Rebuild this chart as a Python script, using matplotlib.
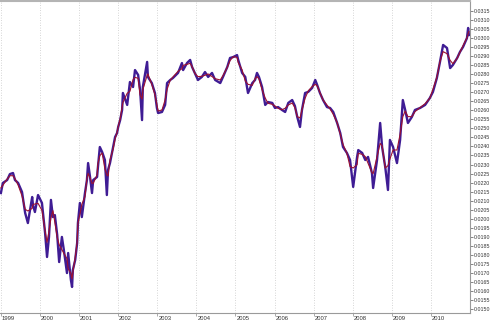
import numpy as np
import pandas as pd
import matplotlib
matplotlib.use("Agg")
import matplotlib.pyplot as plt
from matplotlib.ticker import FixedLocator, FormatStrFormatter
import matplotlib.transforms as mtransforms

# decimal years and rate values
years = [
    1999.00, 1999.05, 1999.16, 1999.23, 1999.31, 1999.36, 1999.44, 1999.54, 1999.62, 1999.69,
    1999.80, 1999.82, 1999.87, 1999.95, 2000.05, 2000.13, 2000.18, 2000.23, 2000.28, 2000.33,
    2000.38, 2000.44, 2000.49, 2000.56, 2000.61, 2000.69, 2000.72, 2000.79, 2000.82, 2000.84,
    2000.90, 2000.95, 2000.97, 2001.02, 2001.07, 2001.15, 2001.20, 2001.23, 2001.28, 2001.33,
    2001.36, 2001.46, 2001.48, 2001.53, 2001.59, 2001.66, 2001.71, 2001.74, 2001.79, 2001.87,
    2001.92, 2001.97, 2002.00, 2002.05, 2002.10, 2002.12, 2002.23, 2002.30, 2002.38, 2002.43,
    2002.51, 2002.56, 2002.61, 2002.63, 2002.74, 2002.76, 2002.86, 2002.94, 2002.99, 2003.02,
    2003.12, 2003.20, 2003.25, 2003.33, 2003.40, 2003.53, 2003.63, 2003.66, 2003.76, 2003.84,
    2003.89, 2003.96, 2004.04, 2004.14, 2004.22, 2004.30, 2004.40, 2004.48, 2004.61, 2004.68,
    2004.79, 2004.86, 2004.94, 2005.04, 2005.07, 2005.17, 2005.25, 2005.32, 2005.43, 2005.50,
    2005.55, 2005.60, 2005.68, 2005.76, 2005.83, 2005.94, 2006.01, 2006.09, 2006.19, 2006.27,
    2006.35, 2006.45, 2006.52, 2006.58, 2006.65, 2006.70, 2006.78, 2006.86, 2006.96, 2007.04,
    2007.09, 2007.16, 2007.24, 2007.34, 2007.42, 2007.50, 2007.60, 2007.68, 2007.75, 2007.85,
    2007.93, 2008.01, 2008.11, 2008.14, 2008.24, 2008.32, 2008.39, 2008.49, 2008.52, 2008.62,
    2008.70, 2008.75, 2008.83, 2008.90, 2008.95, 2009.03, 2009.13, 2009.21, 2009.28, 2009.34,
    2009.41, 2009.51, 2009.59, 2009.72, 2009.85, 2009.97, 2010.05, 2010.15, 2010.23, 2010.31,
    2010.41, 2010.49, 2010.56, 2010.67, 2010.74, 2010.82, 2010.92, 2010.95, 2010.97,
]
rate = [
    0.02142, 0.02198, 0.02214, 0.02247, 0.02253, 0.02214, 0.02198, 0.02148, 0.02032, 0.01976,
    0.02120, 0.02076, 0.02037, 0.02131, 0.02087, 0.01921, 0.01788, 0.01899, 0.02104, 0.02009,
    0.02020, 0.01910, 0.01760, 0.01899, 0.01827, 0.01699, 0.01810, 0.01661, 0.01622, 0.01716,
    0.01771, 0.01865, 0.01976, 0.02087, 0.02009, 0.02142, 0.02214, 0.02308, 0.02231, 0.02142,
    0.02214, 0.02231, 0.02281, 0.02397, 0.02369, 0.02325, 0.02131, 0.02270, 0.02308, 0.02397,
    0.02452, 0.02474, 0.02508, 0.02546, 0.02602, 0.02696, 0.02630, 0.02757, 0.02729, 0.02823,
    0.02796, 0.02713, 0.02546, 0.02729, 0.02868, 0.02785, 0.02751, 0.02696, 0.02613, 0.02585,
    0.02591, 0.02630, 0.02751, 0.02768, 0.02779, 0.02807, 0.02862, 0.02823, 0.02862, 0.02879,
    0.02840, 0.02807, 0.02768, 0.02785, 0.02812, 0.02785, 0.02807, 0.02768, 0.02751, 0.02785,
    0.02840, 0.02890, 0.02895, 0.02906, 0.02879, 0.02807, 0.02785, 0.02696, 0.02751, 0.02768,
    0.02807, 0.02785, 0.02729, 0.02630, 0.02646, 0.02641, 0.02613, 0.02618, 0.02602, 0.02591,
    0.02641, 0.02657, 0.02624, 0.02563, 0.02508, 0.02602, 0.02696, 0.02702, 0.02724, 0.02768,
    0.02740, 0.02696, 0.02657, 0.02618, 0.02613, 0.02591, 0.02530, 0.02474, 0.02397, 0.02364,
    0.02325, 0.02176, 0.02342, 0.02380, 0.02364, 0.02325, 0.02342, 0.02253, 0.02170, 0.02325,
    0.02530, 0.02397, 0.02286, 0.02159, 0.02436, 0.02397, 0.02308, 0.02436, 0.02657, 0.02602,
    0.02530, 0.02563, 0.02602, 0.02613, 0.02630, 0.02668, 0.02702, 0.02779, 0.02868, 0.02962,
    0.02945, 0.02834, 0.02851, 0.02890, 0.02923, 0.02951, 0.03000, 0.03056, 0.03017,
]
year_ticks = list(range(1999, 2011))
rate_ticks = [round(0.0150 + 0.0005 * i, 4) for i in range(34)]

plt.rcParams['font.family'] = ['Liberation Sans', 'DejaVu Sans']

series = pd.Series(rate, index=years)
smooth = series.rolling(3, center=True, min_periods=1).mean()

fig = plt.figure(figsize=(4.9, 3.2), dpi=100)
ax = fig.add_axes([0.0, 7 / 320, 469.5 / 490, 312 / 320])

ax.plot(series.index, series.values, color='#3f1c94', lw=1.7)
ax.plot(smooth.index, smooth.values, color='#9c1030', lw=0.8)

ax.set_xlim(1998.977, 2010.985)
ax.set_ylim(0.014778, 0.032054)

ax.yaxis.tick_right()
ax.yaxis.set_major_locator(FixedLocator(rate_ticks))
ax.yaxis.set_major_formatter(FormatStrFormatter('%.4f'))
ax.tick_params(axis='y', labelsize=3.8, length=2, width=0.5, pad=0.8,
               colors='#555555', labelcolor='#333333')

ax.set_xticks(year_ticks)
ax.set_xticklabels([str(y) for y in year_ticks])
ax.tick_params(axis='x', labelsize=4.2, length=2, width=0.5, pad=0.5,
               colors='#888888', labelcolor='#333333')
offset = mtransforms.ScaledTranslation(1 / 100, 0, fig.dpi_scale_trans)
for lab in ax.get_xticklabels():
    lab.set_horizontalalignment('left')
    lab.set_transform(lab.get_transform() + offset)

ax.grid(axis='x', linestyle=(0, (1, 2)), color='#c8c8c8', lw=0.6)
ax.spines['left'].set_visible(False)
ax.spines['top'].set_color('#b4b4b4')
ax.spines['top'].set_linewidth(1.5)
ax.spines['bottom'].set_color('#9a9a9a')
ax.spines['right'].set_color('#9a9a9a')
ax.spines['bottom'].set_linewidth(0.8)
ax.spines['right'].set_linewidth(0.8)

fig.savefig('out.png', dpi=100)
